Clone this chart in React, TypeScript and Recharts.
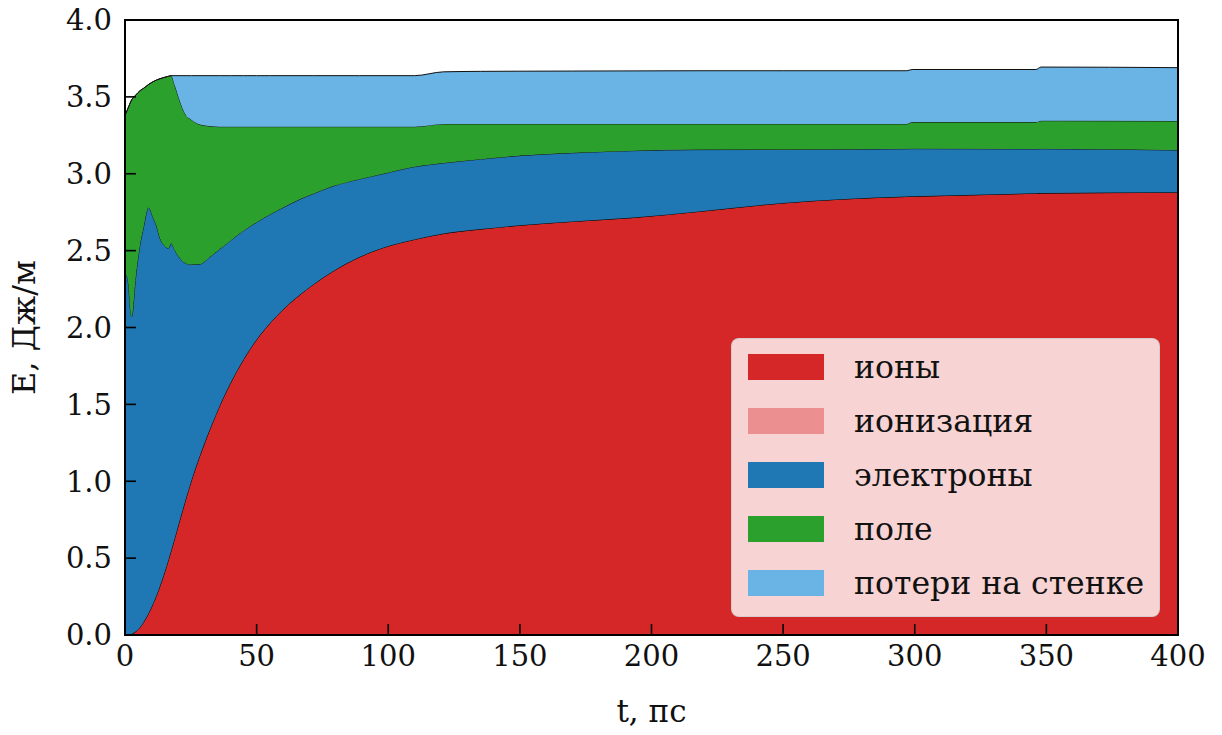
import { AreaChart, Area, XAxis, YAxis, Legend, ReferenceArea } from "recharts";

// t, ps
const time = [
  0, 1, 2.5, 4, 5.7, 7, 8.9, 10.8, 12, 13.3, 14.6, 16.5, 17.5, 19, 20.9, 22.8,
  25.3, 28.5, 32.3, 36, 40, 45, 50, 55, 60, 66.5, 71.5, 79, 89, 98, 110, 121,
  135, 150, 170, 193, 218, 250, 297, 299, 346, 348, 400,
];

// layer values, J/m
const ions = [
  0, 0.001, 0.007, 0.022, 0.05, 0.083, 0.14, 0.21, 0.26, 0.32, 0.385, 0.49,
  0.548, 0.638, 0.754, 0.868, 1.01, 1.17, 1.341, 1.493, 1.637, 1.792, 1.922,
  2.027, 2.117, 2.214, 2.28, 2.366, 2.458, 2.519, 2.573, 2.611, 2.64, 2.665,
  2.69, 2.715, 2.755, 2.81, 2.852, 2.853, 2.873, 2.874, 2.879,
];
const ionization = [
  0, 0, 0, 0, 0, 0, 0, 0, 0, 0, 0, 0, 0, 0, 0, 0, 0, 0, 0, 0, 0, 0, 0, 0, 0, 0,
  0, 0, 0, 0, 0, 0, 0, 0, 0, 0, 0, 0, 0, 0, 0, 0, 0,
];
const electrons = [
  2.35, 2.319, 2.063, 2.298, 2.49, 2.567, 2.64, 2.5, 2.4, 2.26, 2.155, 2.025,
  2.0, 1.862, 1.696, 1.552, 1.4, 1.243, 1.119, 1.017, 0.928, 0.838, 0.763,
  0.708, 0.663, 0.621, 0.59, 0.554, 0.507, 0.481, 0.473, 0.459, 0.455, 0.453,
  0.446, 0.435, 0.402, 0.348, 0.31, 0.31, 0.288, 0.288, 0.275,
];
const field = [
  1.03, 1.1, 1.41, 1.19, 1.0, 0.905, 0.8, 0.89, 0.95, 1.038, 1.085, 1.119, 1.09,
  1.07, 1.02, 0.97, 0.94, 0.907, 0.85, 0.796, 0.741, 0.676, 0.621, 0.571, 0.526,
  0.471, 0.436, 0.386, 0.341, 0.306, 0.26, 0.254, 0.229, 0.206, 0.188, 0.174,
  0.167, 0.166, 0.162, 0.173, 0.175, 0.183, 0.189,
];
const wallLoss = [
  0, 0, 0, 0, 0, 0, 0, 0, 0, 0, 0, 0, 0, 0.068, 0.168, 0.248, 0.288, 0.318,
  0.328, 0.332, 0.332, 0.332, 0.332, 0.332, 0.332, 0.332, 0.332, 0.332, 0.332,
  0.332, 0.332, 0.339, 0.342, 0.343, 0.344, 0.345, 0.346, 0.346, 0.346, 0.342,
  0.342, 0.349, 0.347,
];

const xTicks = [0, 50, 100, 150, 200, 250, 300, 350, 400];
const yTicks = [0, 0.5, 1, 1.5, 2, 2.5, 3, 3.5, 4];

const series = [
  { key: "ions", name: "ионы", color: "#d62728" },
  { key: "ionization", name: "ионизация", color: "#eb8f90" },
  { key: "electrons", name: "электроны", color: "#1f77b4" },
  { key: "field", name: "поле", color: "#2ca02c" },
  { key: "wallLoss", name: "потери на стенке", color: "#6ab3e5" },
];

const data = time.map((t, i) => ({
  t,
  ions: ions[i],
  ionization: ionization[i],
  electrons: electrons[i],
  field: field[i],
  wallLoss: wallLoss[i],
}));

const font = "DejaVu Serif";

function LegendBox() {
  return (
    <div
      style={{
        width: 429,
        height: 279,
        background: "rgba(255,255,255,0.8)",
        border: "1.5px solid rgba(204,204,204,0.8)",
        borderRadius: 8,
        boxSizing: "border-box",
        padding: "1px 0 0 16px",
        fontFamily: font,
      }}
    >
      {series.map((s) => (
        <div
          key={s.key}
          style={{ display: "flex", alignItems: "center", height: 54 }}
        >
          <div style={{ width: 76, height: 26, background: s.color }} />
          <span style={{ marginLeft: 30, fontSize: 31.5, color: "#111" }}>
            {s.name}
          </span>
        </div>
      ))}
    </div>
  );
}

export default function App() {
  return (
    <div
      style={{
        position: "absolute",
        left: 0,
        top: 0,
        width: 1222,
        height: 735,
        background: "#fff",
        fontFamily: font,
      }}
    >
      <style>{`.recharts-wrapper text { font-family: "DejaVu Serif" !important; }`}</style>
      <AreaChart
        width={1222}
        height={735}
        data={data}
        margin={{ top: 20, right: 44, left: 0, bottom: 0 }}
      >
        <XAxis
          dataKey="t"
          type="number"
          domain={[0, 400]}
          ticks={xTicks}
          height={100}
          tickSize={-11}
          tickMargin={21}
          axisLine={{ stroke: "#000", strokeWidth: 2 }}
          tickLine={{ stroke: "#000", strokeWidth: 1.6 }}
          tick={{ fill: "#111", fontSize: 29 }}
          label={{
            value: "t, пс",
            position: "insideBottom",
            offset: 13,
            fill: "#111",
            fontSize: 31,
          }}
        />
        <YAxis
          type="number"
          domain={[0, 4]}
          ticks={yTicks}
          width={125}
          tickSize={-11}
          tickMargin={24}
          tickFormatter={(v: number) => v.toFixed(1)}
          axisLine={{ stroke: "#000", strokeWidth: 2 }}
          tickLine={{ stroke: "#000", strokeWidth: 1.6 }}
          tick={{ fill: "#111", fontSize: 29 }}
          label={{
            value: "Е, Дж/м",
            angle: -90,
            position: "insideLeft",
            offset: 24,
            fill: "#111",
            fontSize: 32,
            style: { textAnchor: "middle" },
          }}
        />
        {series.map((s) => (
          <Area
            key={s.key}
            type="monotone"
            dataKey={s.key}
            name={s.name}
            stackId="1"
            fill={s.color}
            fillOpacity={1}
            stroke="#111"
            strokeWidth={1}
            dot={false}
            activeDot={false}
            isAnimationActive={false}
          />
        ))}
        <ReferenceArea
          x1={0}
          x2={400}
          y1={0}
          y2={4}
          fill="none"
          fillOpacity={0}
          stroke="#000"
          strokeWidth={2}
        />
        <Legend
          layout="horizontal"
          verticalAlign="middle"
          content={() => <LegendBox />}
          wrapperStyle={{ left: 731, top: 338, width: 429, height: 279 }}
        />
      </AreaChart>
    </div>
  );
}
